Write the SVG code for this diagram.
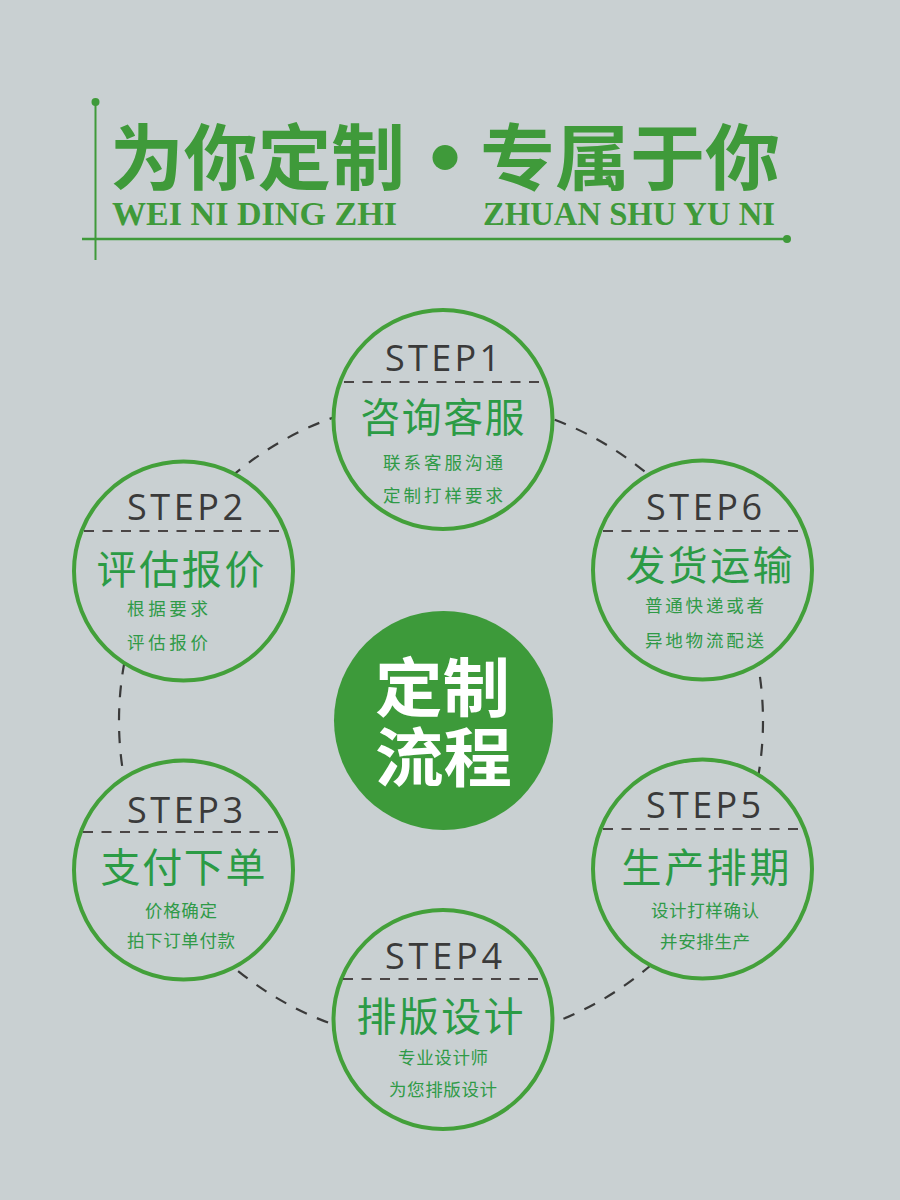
<svg xmlns="http://www.w3.org/2000/svg" width="900" height="1200" viewBox="0 0 900 1200">
<style>
.bg{fill:#c9d0d2}
.hd{fill:#3f9a3a;font-family:"Noto Sans CJK SC","Noto Sans CJK TC",sans-serif;font-weight:700;font-size:72px}
.en{fill:#3f9a3a;font-family:"Liberation Serif","Times New Roman",serif;font-weight:700;font-size:34px}
.ring{fill:#c9d0d2;stroke:#43a03a;stroke-width:4}
.chord{stroke:#4a4545;stroke-width:2;stroke-dasharray:10 8.5;fill:none}
.step{fill:#3a3a3a;font-family:"Open Sans","Noto Sans","Liberation Sans",sans-serif;font-weight:400;font-size:36px}
.ttl{fill:#2b9b45;font-family:"Noto Sans CJK SC",sans-serif;font-size:40px}
.sub{fill:#2f9a47;font-family:"Noto Sans CJK SC",sans-serif;font-size:17.5px}
.ctr{fill:#ffffff;font-family:"Noto Sans CJK SC",sans-serif;font-weight:700;font-size:64px}
</style>
<rect class="bg" x="0" y="0" width="900" height="1200"/>

<g id="header">
  <line x1="95.5" y1="102" x2="95.5" y2="260" stroke="#3f9a3a" stroke-width="2"/>
  <circle cx="95.5" cy="102" r="4" fill="#3f9a3a"/>
  <line x1="82" y1="239" x2="787" y2="239" stroke="#3f9a3a" stroke-width="2.5"/>
  <circle cx="787" cy="239" r="4" fill="#3f9a3a"/>
  <text class="hd" x="110" y="184" textLength="295" lengthAdjust="spacingAndGlyphs">为你定制</text>
  <circle cx="445" cy="157.5" r="12.5" fill="#3f9a3a"/>
  <text class="hd" x="480" y="184" textLength="300" lengthAdjust="spacingAndGlyphs">专属于你</text>
  <text class="en" x="112" y="225" textLength="285" lengthAdjust="spacingAndGlyphs">WEI NI DING ZHI</text>
  <text class="en" x="483" y="225" textLength="292" lengthAdjust="spacingAndGlyphs">ZHUAN SHU YU NI</text>
</g>

<g id="connectors">
  <circle cx="441" cy="721" r="322" fill="none" stroke="#3a3a3a" stroke-width="2.2" stroke-dasharray="12 11"/>
</g>

<g id="center">
  <circle cx="443.5" cy="720.5" r="109.5" fill="#3d9a3a"/>
  <text class="ctr" x="375" y="711" textLength="135" lengthAdjust="spacingAndGlyphs">定制</text>
  <text class="ctr" x="375" y="781" textLength="137" lengthAdjust="spacingAndGlyphs">流程</text>
</g>

<g id="step1">
  <circle class="ring" cx="443" cy="419.5" r="109.5"/>
  <text class="step" x="385" y="371" textLength="115" lengthAdjust="spacing">STEP1</text>
  <line class="chord" x1="344" y1="382" x2="543" y2="382"/>
  <text class="ttl" x="360.5" y="432" textLength="164" lengthAdjust="spacing">咨询客服</text>
  <text class="sub" x="383" y="469" textLength="120" lengthAdjust="spacing">联系客服沟通</text>
  <text class="sub" x="383" y="502" textLength="120" lengthAdjust="spacing">定制打样要求</text>
</g>

<g id="step2">
  <circle class="ring" cx="183.5" cy="571" r="109.5"/>
  <text class="step" x="127" y="520" textLength="116" lengthAdjust="spacing">STEP2</text>
  <line class="chord" x1="84" y1="531" x2="284" y2="531"/>
  <text class="ttl" x="96.5" y="584" textLength="168" lengthAdjust="spacing">评估报价</text>
  <text class="sub" x="127" y="615" textLength="81" lengthAdjust="spacing">根据要求</text>
  <text class="sub" x="127" y="649" textLength="81" lengthAdjust="spacing">评估报价</text>
</g>

<g id="step6">
  <circle class="ring" cx="702.5" cy="570" r="109.5"/>
  <text class="step" x="646" y="520" textLength="116" lengthAdjust="spacing">STEP6</text>
  <line class="chord" x1="603" y1="531" x2="802" y2="531"/>
  <text class="ttl" x="625.5" y="580" textLength="167" lengthAdjust="spacing">发货运输</text>
  <text class="sub" x="645" y="612" textLength="119" lengthAdjust="spacing">普通快递或者</text>
  <text class="sub" x="645" y="647" textLength="119" lengthAdjust="spacing">异地物流配送</text>
</g>

<g id="step5">
  <circle class="ring" cx="702.5" cy="869" r="109.5"/>
  <text class="step" x="646" y="818" textLength="115" lengthAdjust="spacing">STEP5</text>
  <line class="chord" x1="603" y1="829" x2="802" y2="829"/>
  <text class="ttl" x="621.5" y="882" textLength="168" lengthAdjust="spacing">生产排期</text>
  <text class="sub" x="651" y="917" textLength="108" lengthAdjust="spacing">设计打样确认</text>
  <text class="sub" x="660" y="948" textLength="90" lengthAdjust="spacing">并安排生产</text>
</g>

<g id="step3">
  <circle class="ring" cx="183.5" cy="870" r="109.5"/>
  <text class="step" x="127" y="823" textLength="116" lengthAdjust="spacing">STEP3</text>
  <line class="chord" x1="83" y1="832" x2="282" y2="832"/>
  <text class="ttl" x="100.5" y="882" textLength="165" lengthAdjust="spacing">支付下单</text>
  <text class="sub" x="145" y="917" textLength="72" lengthAdjust="spacing">价格确定</text>
  <text class="sub" x="127" y="947" textLength="108" lengthAdjust="spacing">拍下订单付款</text>
</g>

<g id="step4">
  <circle class="ring" cx="443" cy="1019.5" r="109.5"/>
  <text class="step" x="385" y="969" textLength="117" lengthAdjust="spacing">STEP4</text>
  <line class="chord" x1="343" y1="979" x2="542" y2="979"/>
  <text class="ttl" x="356.5" y="1031" textLength="167" lengthAdjust="spacing">排版设计</text>
  <text class="sub" x="398" y="1064" textLength="90" lengthAdjust="spacing">专业设计师</text>
  <text class="sub" x="389" y="1096" textLength="108" lengthAdjust="spacing">为您排版设计</text>
</g>
</svg>
